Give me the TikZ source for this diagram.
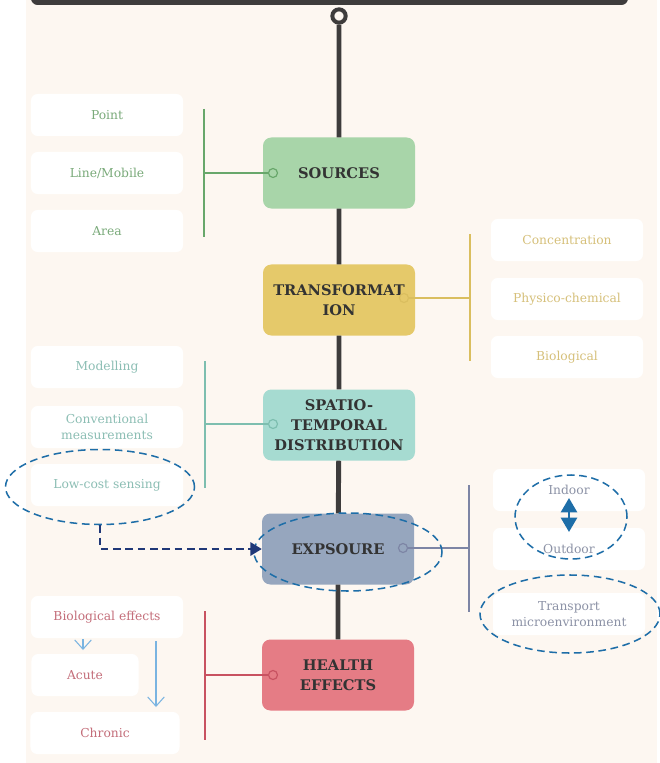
\documentclass[tikz,border=0pt]{standalone}
\usepackage{xcolor}
\usepackage{fontspec}
\setmainfont{DejaVu Serif}
\usepackage{tikz}
\usetikzlibrary{positioning, shapes, calc, arrows, arrows.meta}
\definecolor{cream}{RGB}{253,247,241}
\definecolor{spinegray}{RGB}{62,60,60}
\definecolor{srcgreen}{RGB}{168,213,169}
\definecolor{srcline}{RGB}{104,167,107}
\definecolor{srctext}{RGB}{122,170,122}
\definecolor{trfyellow}{RGB}{229,201,106}
\definecolor{trfline}{RGB}{218,190,95}
\definecolor{trftext}{RGB}{214,192,122}
\definecolor{sptteal}{RGB}{166,219,209}
\definecolor{sptline}{RGB}{125,190,175}
\definecolor{spttext}{RGB}{140,190,180}
\definecolor{expslate}{RGB}{150,166,190}
\definecolor{expline}{RGB}{125,133,165}
\definecolor{exptext}{RGB}{140,146,166}
\definecolor{hltred}{RGB}{229,124,133}
\definecolor{hltline}{RGB}{200,82,97}
\definecolor{hlttext}{RGB}{196,110,122}
\definecolor{ringblue}{RGB}{30,110,168}
\definecolor{navyblue}{RGB}{32,56,120}
\definecolor{skyblue}{RGB}{122,180,225}

\begin{document}
\begin{tikzpicture}[x=0.03cm, y=-0.03cm]
		\tikzstyle{stage}=[rounded corners=2.5mm, minimum width=4.56cm, minimum height=2.13cm, align=center, text=black!80, font=\bfseries\fontsize{12.5}{17}\selectfont]
		\tikzstyle{leaf}=[fill=white, rounded corners=2mm, minimum width=4.56cm, minimum height=1.26cm, align=center, font=\fontsize{10.5}{13}\selectfont]
		\tikzstyle{knob}=[circle, line width=1pt, inner sep=0pt, minimum size=2.7mm]
		\tikzstyle{bar}=[line width=2.4pt]
		\tikzstyle{arm}=[line width=1.6pt]
		\tikzstyle{ring}=[ellipse, draw=ringblue, line width=1.3pt, dash pattern=on 6.5pt off 4pt]
		
		%% page and top bar
		\fill[white] (0,0) rectangle (659,763);
		\useasboundingbox (0,0) rectangle (659,763);
		\fill[cream] (26,0) rectangle (657,763);
		\fill[spinegray, rounded corners=2mm] (31,-10) rectangle (628,5);
		\node[circle, draw=spinegray, line width=3.4pt, fill=cream, minimum size=4mm, inner sep=0pt] (TOP) at (339,16) {};
		
		%% main stages
		\node[stage, fill=srcgreen] (SRC) at (339,173) {SOURCES};
		\node[stage, fill=trfyellow] (TRF) at (339,300) {TRANSFORMAT\\ION};
		\node[stage, fill=sptteal] (SPT) at (339,425) {SPATIO-\\TEMPORAL\\DISTRIBUTION};
		\node[stage, fill=expslate] (EXP) at (338,549) {EXPSOURE};
		\node[stage, fill=hltred] (HLT) at (338,675) {HEALTH\\EFFECTS};
		
		\draw[spinegray, line width=4.2pt] (TOP) -- (SRC) -- (TRF) -- (SPT) -- (EXP) -- (HLT);
		
		%% sources
		\node[knob, draw=srcline, fill=srcgreen] (SRCk) at (273,173) {};
		\coordinate (SRCt) at (204,109);
		\coordinate (SRCb) at (204,237);
		\draw[bar, srcline] (SRCt) -- (SRCb);
		\draw[arm, srcline] (SRCk) -- (SRCk -| SRCt);
		\node[leaf, text=srctext] (PNT) at (107,115) {Point};
		\node[leaf, text=srctext] (LIN) at (107,173) {Line/Mobile};
		\node[leaf, text=srctext] (ARA) at (107,231) {Area};
		
		%% transformation
		\node[knob, draw=trfline, fill=trfyellow] (TRFk) at (404,298) {};
		\coordinate (TRFt) at (470,234);
		\coordinate (TRFb) at (470,361);
		\draw[bar, trfline] (TRFt) -- (TRFb);
		\draw[arm, trfline] (TRFk) -- (TRFk -| TRFt);
		\node[leaf, text=trftext] (CON) at (567,240) {Concentration};
		\node[leaf, text=trftext] (PHY) at (567,299) {Physico-chemical};
		\node[leaf, text=trftext] (BIL) at (567,357) {Biological};
		
		%% spatio-temporal
		\node[knob, draw=sptline, fill=sptteal] (SPTk) at (273,424) {};
		\coordinate (SPTt) at (205,361);
		\coordinate (SPTb) at (205,488);
		\draw[bar, sptline] (SPTt) -- (SPTb);
		\draw[arm, sptline] (SPTk) -- (SPTk -| SPTt);
		\node[leaf, text=spttext] (MOD) at (107,367) {Modelling};
		\node[leaf, text=spttext] (CVM) at (107,427) {Conventional\\measurements};
		\node[leaf, text=spttext] (LCS) at (107,485) {Low-cost sensing};
		
		%% exposure
		\node[knob, draw=expline, fill=expslate] (EXPk) at (403,548) {};
		\coordinate (EXPt) at (469,485);
		\coordinate (EXPb) at (469,612);
		\draw[bar, expline] (EXPt) -- (EXPb);
		\draw[arm, expline] (EXPk) -- (EXPk -| EXPt);
		\node[leaf, text=exptext] (IND) at (569,490) {Indoor};
		\node[leaf, text=exptext] (OUT) at (569,549) {Outdoor};
		\node[leaf, text=exptext] (TRM) at (569,614) {Transport\\microenvironment};
		
		%% health effects
		\node[knob, draw=hltline, fill=hltred] (HLTk) at (273,675) {};
		\coordinate (HLTt) at (205,611);
		\coordinate (HLTb) at (205,740);
		\draw[bar, hltline] (HLTt) -- (HLTb);
		\draw[arm, hltline] (HLTk) -- (HLTk -| HLTt);
		\node[leaf, text=hlttext] (BIO) at (107,617) {Biological effects};
		\node[leaf, text=hlttext, minimum width=3.21cm] (ACU) at (85,675) {Acute};
		\node[leaf, text=hlttext, minimum width=4.47cm] (CHR) at (105,733) {Chronic};
		
		\coordinate (BIOa) at (83,639);
		\coordinate (ACUa) at (83,650);
		\coordinate (BIOb) at (156,641);
		\coordinate (CHRb) at (156,707);
		\draw[skyblue, line width=0.9pt, -{Straight Barb[length=2.8mm, width=5mm]}] (BIOa) -- (ACUa);
		\draw[skyblue, line width=0.9pt, -{Straight Barb[length=2.8mm, width=5mm]}] (BIOb) -- (CHRb);
		
		%% dashed marks
		\node[ring, minimum width=5.67cm, minimum height=2.25cm] (LCSr) at (100,487) {};
		\node[ring, minimum width=5.64cm, minimum height=2.34cm] (EXPr) at (348,552) {};
		\node[ring, minimum width=3.36cm, minimum height=2.52cm] (INDr) at (571,517) {};
		\node[ring, minimum width=5.4cm, minimum height=2.34cm] (TRMr) at (570,614) {};
		
		\coordinate (INDa) at (569,498);
		\coordinate (OUTa) at (569,532);
		\draw[ringblue, line width=2.2pt, {Triangle[length=4.3mm, width=4.8mm]}-{Triangle[length=4.3mm, width=4.8mm]}] (INDa) -- (OUTa);
		
		\draw[navyblue, line width=1.5pt, dash pattern=on 6.5pt off 4pt, -{Triangle[length=3.4mm, width=4mm]}] (LCSr.south) |- (EXP.west);
\end{tikzpicture}
\end{document}
